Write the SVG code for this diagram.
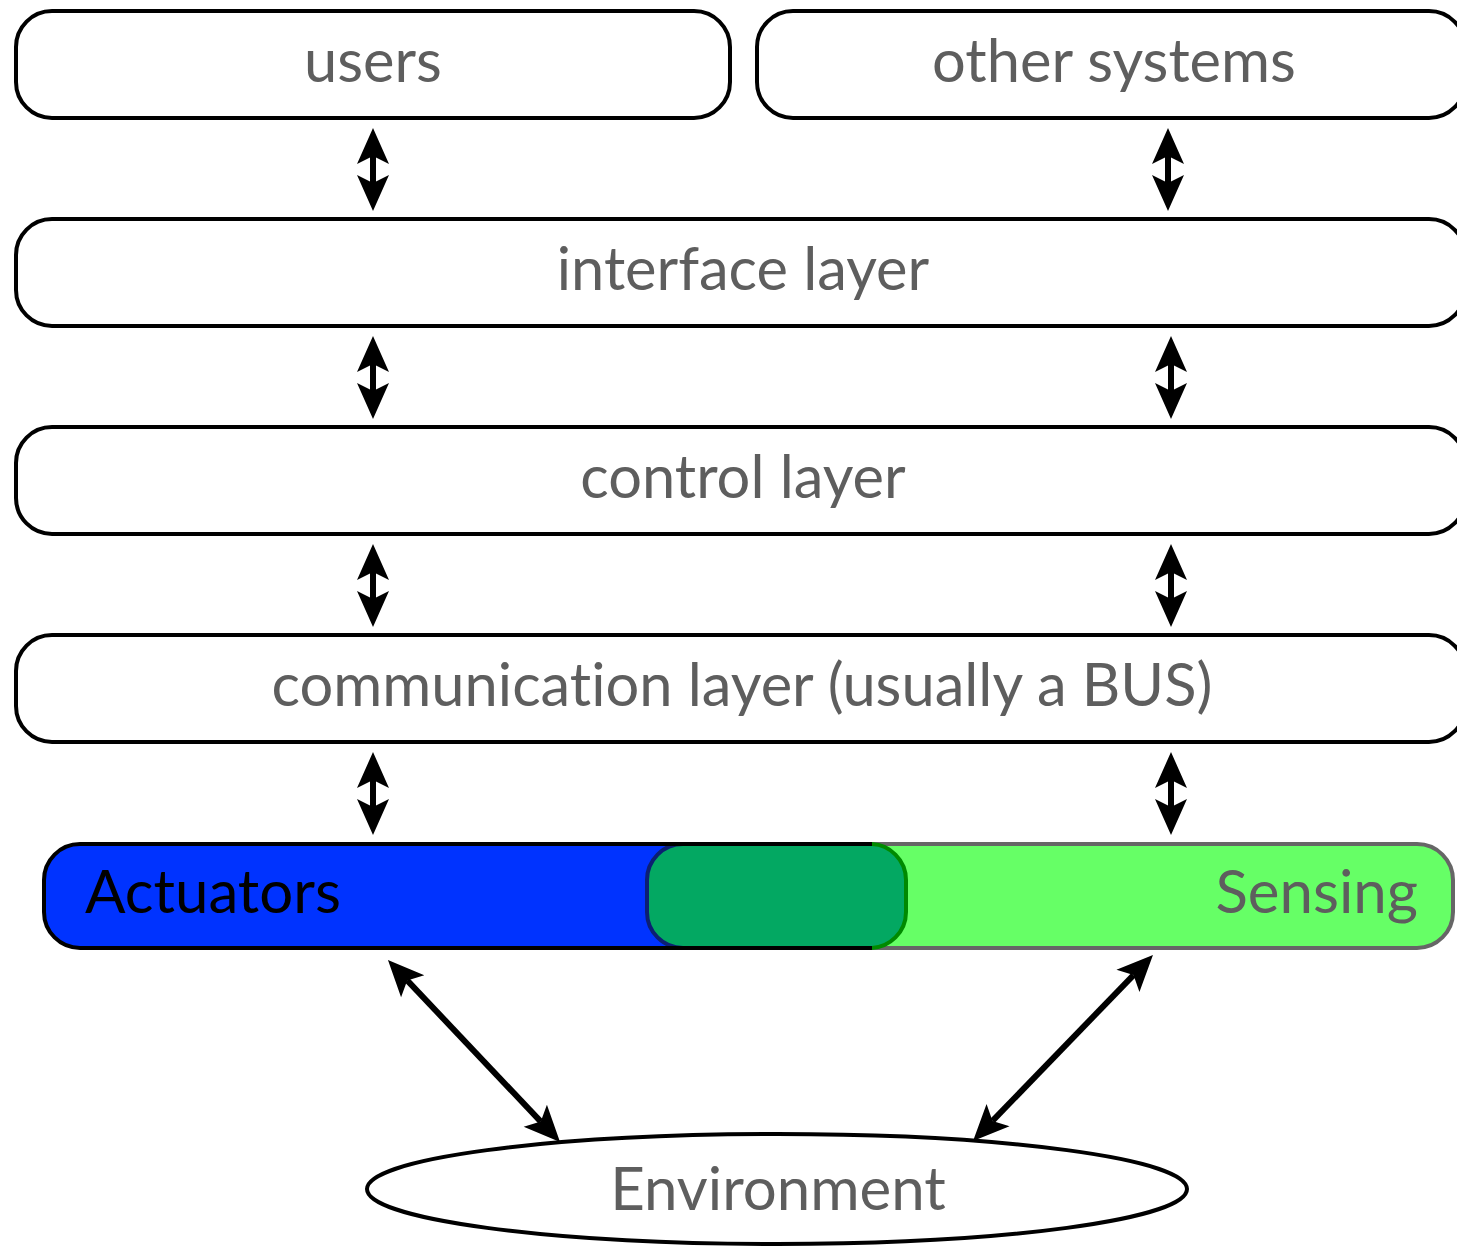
<svg xmlns="http://www.w3.org/2000/svg" width="1457" height="1247" viewBox="0 0 1457 1247">
  <style>
    .box { fill: #ffffff; stroke: #000000; stroke-width: 4; }
    .lbl { font-family: "Lato", "Open Sans", sans-serif; font-size: 59.6px; fill: #5e5e5e; text-anchor: middle; font-variant-ligatures: none; }
    .big { font-size: 60px; }
    .link { fill: none; stroke: #000000; stroke-width: 6; marker-start: url(#head); marker-end: url(#head); }
  </style>
  <defs>
    <!-- notched arrowhead; the line ends at the notch, tip sits 28px further out -->
    <marker id="head" markerUnits="userSpaceOnUse" markerWidth="40" markerHeight="40" viewBox="0 -20 40 40" refX="8" refY="0" orient="auto-start-reverse" overflow="visible">
      <path d="M0,-16 L36,0 L0,16 L8,0 Z" fill="#000000"/>
    </marker>
    <clipPath id="actClip">
      <rect x="44" y="844" width="862" height="104" rx="36" ry="36"/>
    </clipPath>
    <clipPath id="leftOfCorner">
      <rect x="0" y="800" width="872" height="200"/>
    </clipPath>
    <clipPath id="rightOfCorner">
      <rect x="872" y="800" width="200" height="200"/>
    </clipPath>
  </defs>

  <g id="users">
    <rect class="box" x="16" y="11" width="714" height="107" rx="36" ry="36"/>
    <text class="lbl" x="373" y="82">users</text>
  </g>
  <g id="other-systems">
    <rect class="box" x="757" y="11" width="708" height="107" rx="36" ry="36"/>
    <text class="lbl" x="1114" y="82">other systems</text>
  </g>
  <g id="interface-layer">
    <rect class="box" x="16" y="219" width="1449" height="107" rx="36" ry="36"/>
    <text class="lbl" x="743" y="290">interface layer</text>
  </g>
  <g id="control-layer">
    <rect class="box" x="16" y="427" width="1449" height="107" rx="36" ry="36"/>
    <text class="lbl" x="743" y="498">control layer</text>
  </g>
  <g id="communication-layer">
    <rect class="box" x="16" y="635" width="1449" height="107" rx="36" ry="36"/>
    <text class="lbl" x="742" y="706">communication layer (usually a BUS)</text>
  </g>

  <g id="sensing">
    <rect x="647" y="844" width="806" height="104" rx="36" ry="36" fill="#66ff66" stroke="#666666" stroke-width="4"/>
  </g>
  <g id="actuators">
    <rect x="44" y="844" width="862" height="104" rx="36" ry="36" fill="#0033ff"/>
    <!-- shared band where both strips overlap -->
    <rect x="647" y="844" width="806" height="104" rx="36" ry="36" fill="#03a862" stroke="#0c1f72" stroke-width="4" clip-path="url(#actClip)"/>
    <rect x="44" y="844" width="862" height="104" rx="36" ry="36" fill="none" stroke="#000000" stroke-width="4" clip-path="url(#leftOfCorner)"/>
    <rect x="44" y="844" width="862" height="104" rx="36" ry="36" fill="none" stroke="#008a00" stroke-width="4" clip-path="url(#rightOfCorner)"/>
    <text class="lbl big" x="85" y="913" style="text-anchor:start; fill:#000000">Actuators</text>
  </g>
  <g id="sensing-label">
    <text class="lbl big" x="1418" y="913" style="text-anchor:end">Sensing</text>
  </g>

  <g id="environment">
    <ellipse cx="777" cy="1189" rx="410" ry="55" fill="#ffffff" stroke="#000000" stroke-width="4"/>
    <text class="lbl big" x="778" y="1210">Environment</text>
  </g>

  <g id="connectors">
    <path class="link" d="M373,156 L373,183"/>
    <path class="link" d="M1168,156 L1168,183"/>
    <path class="link" d="M373,364 L373,391"/>
    <path class="link" d="M1171,364 L1171,391"/>
    <path class="link" d="M373,572 L373,599"/>
    <path class="link" d="M1171,572 L1171,599"/>
    <path class="link" d="M373,780 L373,807"/>
    <path class="link" d="M1171,780 L1171,807"/>
    <path class="link" d="M407.2,980.4 L540.8,1121.6"/>
    <path class="link" d="M1133.5,975.1 L992.5,1120.9"/>
  </g>
</svg>
